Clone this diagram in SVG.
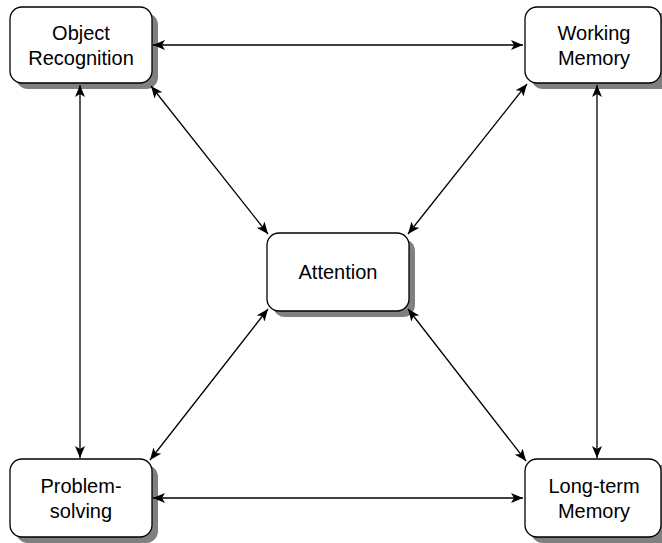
<svg xmlns="http://www.w3.org/2000/svg" width="662" height="543" viewBox="0 0 662 543">
<style>
.shadow{fill:#808080;stroke:none}
.box{fill:#fff;stroke:#000;stroke-width:1.3}
.lbl{font-family:"Liberation Sans",Arial,sans-serif;font-size:20px;fill:#000;text-anchor:middle}
.conn line{stroke:#000;stroke-width:1.3;fill:none;marker-start:url(#ah);marker-end:url(#ah)}
</style>
<defs>
<marker id="ah" markerUnits="userSpaceOnUse" markerWidth="12" markerHeight="10" viewBox="0 0 12 10" refX="12" refY="5" orient="auto-start-reverse">
<path d="M0,0 L12,5 L0,10 L3,5 z" fill="#000"/>
</marker>
</defs>
<rect width="662" height="543" fill="#fff"/>
<g id="object-recognition">
<rect class="shadow" x="16" y="13" width="142" height="76" rx="12"/>
<rect class="box" x="10" y="7" width="142" height="76" rx="12"/>
<text class="lbl" x="81" y="40">Object</text>
<text class="lbl" x="81" y="65">Recognition</text>
</g>
<g id="working-memory">
<rect class="shadow" x="531" y="13" width="142" height="76" rx="12"/>
<rect class="box" x="525" y="7" width="136" height="76" rx="12"/>
<text class="lbl" x="594" y="40">Working</text>
<text class="lbl" x="594" y="65">Memory</text>
</g>
<g id="attention">
<rect class="shadow" x="273" y="239" width="142" height="78" rx="12"/>
<rect class="box" x="267" y="233" width="142" height="78" rx="12"/>
<text class="lbl" x="338" y="279">Attention</text>
</g>
<g id="problem-solving">
<rect class="shadow" x="16" y="465" width="142" height="78" rx="12"/>
<rect class="box" x="10" y="459" width="142" height="78" rx="12"/>
<text class="lbl" x="81" y="493">Problem-</text>
<text class="lbl" x="81" y="518">solving</text>
</g>
<g id="long-term-memory">
<rect class="shadow" x="531" y="465" width="142" height="78" rx="12"/>
<rect class="box" x="525" y="459" width="136" height="78" rx="12"/>
<text class="lbl" x="594" y="493">Long-term</text>
<text class="lbl" x="594" y="518">Memory</text>
</g>
<g id="connectors" class="conn">
<line x1="153" y1="45" x2="523" y2="45"/>
<line x1="153" y1="498" x2="523" y2="498"/>
<line x1="80" y1="85" x2="80" y2="458"/>
<line x1="597" y1="85" x2="597" y2="458"/>
<line x1="151" y1="86" x2="268" y2="234"/>
<line x1="527" y1="84" x2="408" y2="234"/>
<line x1="150" y1="460" x2="268" y2="309"/>
<line x1="526" y1="461" x2="408" y2="309"/>
</g>
</svg>
